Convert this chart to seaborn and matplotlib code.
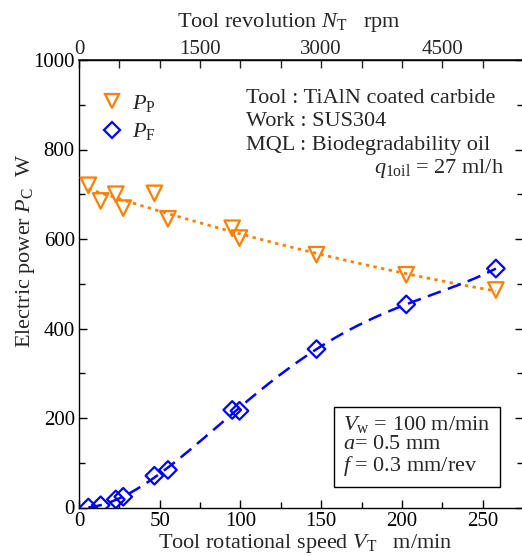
import numpy as np
import pandas as pd
import matplotlib
matplotlib.use('Agg')
import matplotlib.pyplot as plt
from matplotlib.lines import Line2D
from matplotlib.ticker import MultipleLocator, FixedLocator
import seaborn as sns

# values
speed = [5.8, 13.4, 22.8, 27.4, 46.7, 55.1, 94.9, 99.4, 147.1, 202.7, 258.2]
power_p = [720, 685, 700, 669, 702, 645, 624, 602, 565, 520, 486]
power_f = [0, 5, 18, 24, 71, 84, 218, 216, 354, 454, 534]
rpm_ticks = [0, 1500, 3000, 4500]
mm_per_rev = 0.05  # m/min per rpm (tool diameter about 16 mm)

sns.set_theme(style='ticks')
plt.rcParams['font.family'] = ['Liberation Serif', 'DejaVu Serif']
plt.rcParams['mathtext.fontset'] = 'custom'
plt.rcParams['mathtext.rm'] = 'Liberation Serif'
plt.rcParams['mathtext.it'] = 'Liberation Serif:italic'
plt.rcParams['font.size'] = 16

df = pd.DataFrame({'speed': speed, 'PP': power_p, 'PF': power_f})

# fitted trend curves through the measured points
xs = np.linspace(min(speed), max(speed), 200)
fit_p = np.polyval(np.polyfit(df['speed'], df['PP'], 2), xs)
fit_f = np.polyval(np.polyfit(df['speed'], df['PF'], 4), xs)

orange = '#FF7F00'
blue = '#0000FF'

fig = plt.figure(figsize=(5.22, 5.56), dpi=100)
ax = fig.add_axes([79 / 522, 1 - 507.5 / 556, 444 / 522, 447.5 / 556])

sns.lineplot(x=xs, y=fit_p, ax=ax, color=orange, lw=2.0, linestyle=(0, (1.2, 1.6)))
sns.lineplot(x=xs, y=fit_f, ax=ax, color=blue, lw=1.8, linestyle=(0, (5.5, 3)))
sns.scatterplot(data=df, x='speed', y='PP', ax=ax, marker='v', s=125,
                facecolors='none', edgecolor=orange, linewidth=1.6, zorder=3)
sns.scatterplot(data=df, x='speed', y='PF', ax=ax, marker='D', s=80,
                facecolors='none', edgecolor=blue, linewidth=1.6, zorder=3)

ax.set_xlim(0, 275)
ax.set_ylim(0, 1000)
ax.xaxis.set_major_locator(MultipleLocator(50))
ax.xaxis.set_minor_locator(MultipleLocator(25))
ax.yaxis.set_major_locator(MultipleLocator(200))
ax.yaxis.set_minor_locator(MultipleLocator(100))
ax.tick_params(which='both', direction='in', right=True, top=False, labelsize=15,
               width=1.0, colors='black')
ax.tick_params(which='major', length=6, pad=3)
ax.tick_params(which='minor', length=4)
for s in ax.spines.values():
    s.set_linewidth(1.0)
    s.set_color('black')

ax.set_xlabel(r'Tool rotational speed $V_\mathrm{T}$   m/min', fontsize=16, labelpad=1)
ax.xaxis.set_label_coords(0.51, -0.055)
ax.set_ylabel(r'Electric power $P_\mathrm{C}$  W', fontsize=16)
ax.yaxis.set_label_coords(-0.095, 0.573)

sec = ax.secondary_xaxis('top', functions=(lambda v: v / mm_per_rev, lambda n: n * mm_per_rev))
sec.xaxis.set_major_locator(FixedLocator(rpm_ticks))
sec.xaxis.set_minor_locator(MultipleLocator(500))
sec.tick_params(which='both', direction='in', labelsize=15, width=1.0)
sec.tick_params(which='major', length=6, pad=1)
sec.tick_params(which='minor', length=6)
sec.set_xlabel(r'Tool revolution $N_\mathrm{T}$   rpm', fontsize=16, labelpad=9)
sec.xaxis.label.set_x(0.473)

handles = [
    Line2D([], [], marker='v', ls='none', mfc='none', mec=orange, mew=1.6, ms=10.5),
    Line2D([], [], marker='D', ls='none', mfc='none', mec=blue, mew=1.6, ms=8.5),
]
ax.legend(handles, [r'$P_\mathrm{P}$', r'$P_\mathrm{F}$'], loc='upper left',
          bbox_to_anchor=(0.0, 0.972), frameon=False, fontsize=16,
          handletextpad=0.3, labelspacing=0.35, handlelength=1.2)

info = ['Tool : TiAlN coated carbide', 'Work : SUS304', 'MQL : Biodegradability oil']
for i, line in enumerate(info):
    ax.text(0.377, 0.913 - i * 0.0515, line, transform=ax.transAxes, fontsize=16,
            va='center', ha='left')
ax.text(0.958, 0.913 - 3 * 0.0515, r'$q_{1\mathrm{oil}}$ = 27 ml/h', transform=ax.transAxes,
        fontsize=16, va='center', ha='right')

cond = '\n'.join([r'$V_\mathrm{w}$ = 100 m/min', r'$a$= 0.5 mm', r'$f$ = 0.3 mm/rev'])
ax.text(0.595, 0.137, cond, transform=ax.transAxes, fontsize=16, va='center', ha='left',
        linespacing=1.0,
        bbox=dict(boxstyle='square,pad=0.4', fc='white', ec='black', lw=1.0))

fig.savefig('out.png', dpi=100)
